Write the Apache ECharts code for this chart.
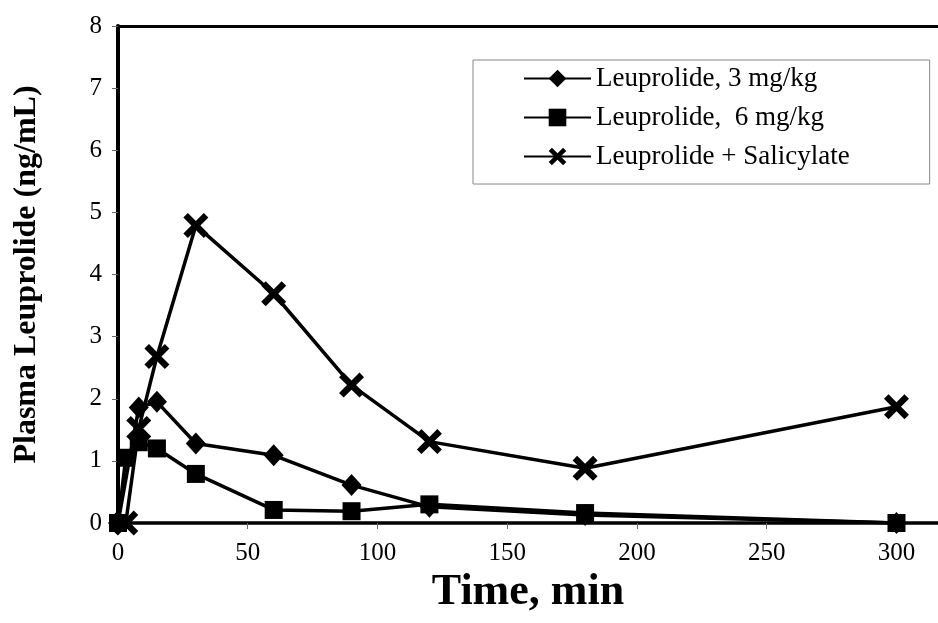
<!DOCTYPE html>
<html>
<head>
<meta charset="utf-8">
<script src="https://cdn.jsdelivr.net/npm/echarts@6/dist/echarts.min.js"></script>
<style>html,body{margin:0;padding:0;background:#fff;}#c{width:938px;height:623px;}</style>
</head>
<body>
<div id="c"></div>
<script>
var seriesNames = ['Leuprolide, 3 mg/kg', 'Leuprolide,  6 mg/kg', 'Leuprolide + Salicylate'];
var dose3Time = [0, 8, 15, 30, 60, 90, 120, 180, 300];
var dose3Value = [0, 1.86, 1.95, 1.28, 1.09, 0.61, 0.26, 0.13, 0];
var dose6Time = [0, 3, 8, 15, 30, 60, 90, 120, 180, 300];
var dose6Value = [0, 1.05, 1.3, 1.2, 0.79, 0.21, 0.19, 0.3, 0.16, 0];
var salTime = [3, 8, 15, 30, 60, 90, 120, 180, 300];
var salValue = [0, 1.52, 2.68, 4.79, 3.69, 2.22, 1.31, 0.88, 1.87];
var xTicks = [0, 50, 100, 150, 200, 250, 300];
var yTicks = [0, 1, 2, 3, 4, 5, 6, 7, 8];

function pairs(t, v) { return t.map(function (x, i) { return [x, v[i]]; }); }
var font = 'Liberation Serif';
var xPath = 'path://M0,4 L4,0 L11,7 L18,0 L22,4 L15,11 L22,18 L18,22 L11,15 L4,22 L0,18 L7,11 Z';

var chart = echarts.init(document.getElementById('c'), null, {renderer: 'canvas'});
var lineStyle = {color: '#000', width: 3.5};
chart.setOption({
  animation: false,
  backgroundColor: '#fff',
  grid: {left: 118, right: 0, top: 26, bottom: 100},
  legend: {
    orient: 'vertical', left: 473, top: 60,
    backgroundColor: '#fff', borderColor: '#888', borderWidth: 1,
    padding: [5, 80, 14, 50],
    itemWidth: 67, itemHeight: 22, itemGap: 12,
    textStyle: {fontFamily: font, fontSize: 27, color: '#000'},
    data: seriesNames
  },
  xAxis: [{
    type: 'value', min: 0, max: 316, interval: 50,
    axisLine: {lineStyle: {color: '#000', width: 3.5}},
    axisTick: {show: true, length: 6, lineStyle: {color: '#666', width: 1}},
    axisLabel: {fontFamily: font, fontSize: 25, color: '#000', margin: 18, showMaxLabel: false,
      formatter: function (v) { return xTicks.indexOf(v) >= 0 ? String(v) : ''; }},
    splitLine: {show: false},
    name: 'Time, min', nameLocation: 'middle', nameGap: 46,
    nameTextStyle: {fontFamily: font, fontSize: 44, fontWeight: 'bold', color: '#000'}
  }, {
    type: 'value', position: 'top', min: 0, max: 316,
    axisLine: {show: true, lineStyle: {color: '#000', width: 3}},
    axisTick: {show: false}, axisLabel: {show: false}, splitLine: {show: false}
  }],
  yAxis: {
    type: 'value', min: 0, max: 8, interval: 1,
    axisLine: {show: true, lineStyle: {color: '#000', width: 4}},
    axisTick: {show: true, length: 6, lineStyle: {color: '#666', width: 1}},
    axisLabel: {fontFamily: font, fontSize: 25, color: '#000', margin: 16,
      formatter: function (v) { return yTicks.indexOf(v) >= 0 ? String(v) : ''; }},
    splitLine: {show: false},
    name: 'Plasma Leuprolide (ng/mL)', nameLocation: 'middle', nameGap: 75,
    nameTextStyle: {fontFamily: font, fontSize: 32, fontWeight: 'bold', color: '#000'}
  },
  series: [{
    name: seriesNames[0], type: 'line', data: pairs(dose3Time, dose3Value),
    symbol: 'diamond', symbolSize: [20, 22], showAllSymbol: true,
    lineStyle: lineStyle, itemStyle: {color: '#000'}
  }, {
    name: seriesNames[1], type: 'line', data: pairs(dose6Time, dose6Value),
    symbol: 'rect', symbolSize: 18, showAllSymbol: true,
    lineStyle: lineStyle, itemStyle: {color: '#000'}
  }, {
    name: seriesNames[2], type: 'line', data: pairs(salTime, salValue),
    symbol: xPath, symbolSize: 25, showAllSymbol: true,
    lineStyle: lineStyle, itemStyle: {color: '#000'}
  }]
});
</script>
</body>
</html>
